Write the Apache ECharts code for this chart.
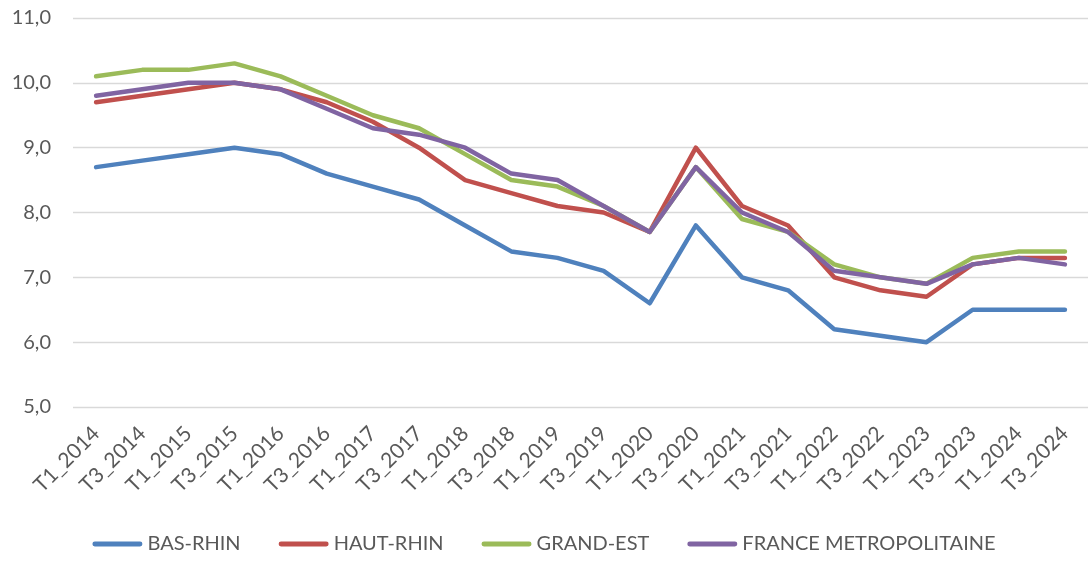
<!DOCTYPE html>
<html>
<head>
<meta charset="utf-8">
<script src="https://cdn.jsdelivr.net/npm/echarts@6/dist/echarts.min.js"></script>
<style>html,body{margin:0;padding:0;background:#fff}#c{width:1088px;height:561px}</style>
</head>
<body>
<div id="c"></div>
<script>
var categories = ["T1_2014","T3_2014","T1_2015","T3_2015","T1_2016","T3_2016","T1_2017","T3_2017","T1_2018","T3_2018","T1_2019","T3_2019","T1_2020","T3_2020","T1_2021","T3_2021","T1_2022","T3_2022","T1_2023","T3_2023","T1_2024","T3_2024"];
var basRhin = [8.7,8.8,8.9,9.0,8.9,8.6,8.4,8.2,7.8,7.4,7.3,7.1,6.6,7.8,7.0,6.8,6.2,6.1,6.0,6.5,6.5,6.5];
var hautRhin = [9.7,9.8,9.9,10.0,9.9,9.7,9.4,9.0,8.5,8.3,8.1,8.0,7.7,9.0,8.1,7.8,7.0,6.8,6.7,7.2,7.3,7.3];
var grandEst = [10.1,10.2,10.2,10.3,10.1,9.8,9.5,9.3,8.9,8.5,8.4,8.1,7.7,8.7,7.9,7.7,7.2,7.0,6.9,7.3,7.4,7.4];
var franceMetro = [9.8,9.9,10.0,10.0,9.9,9.6,9.3,9.2,9.0,8.6,8.5,8.1,7.7,8.7,8.0,7.7,7.1,7.0,6.9,7.2,7.3,7.2];
var seriesNames = ["BAS-RHIN","HAUT-RHIN","GRAND-EST","FRANCE METROPOLITAINE"];
var colors = ["#4f81bd","#c0504d","#9bbb59","#8064a2"];
var yTicks = {min:5, max:11, interval:1};

var font = "Lato, 'Noto Sans', sans-serif";
var chart = echarts.init(document.getElementById('c'));
var dataSets = [basRhin, hautRhin, grandEst, franceMetro];
var lineIcon = 'path://M2.5,0 H49.5 A2.5,2.5 0 0 1 49.5,5 H2.5 A2.5,2.5 0 0 1 2.5,0 Z';
chart.setOption({
  animation: false,
  color: colors,
  grid: {left: 73, right: 0, top: 18, bottom: 154},
  legend: {
    bottom: 2, left: 'center',
    itemWidth: 50, itemHeight: 5, itemGap: 38,
    textStyle: {fontFamily: font, fontSize: 20, color: '#595959', padding: [0,0,0,0]},
    data: seriesNames.map(function(n){ return {name: n, icon: lineIcon}; })
  },
  xAxis: {
    type: 'category',
    data: categories,
    boundaryGap: true,
    axisLine: {show: false},
    axisTick: {show: false},
    axisLabel: {rotate: 45, interval: 0, margin: 23, fontFamily: font, fontSize: 21, color: '#595959'}
  },
  yAxis: {
    type: 'value',
    min: yTicks.min, max: yTicks.max, interval: yTicks.interval,
    axisLine: {show: false},
    axisTick: {show: false},
    splitLine: {lineStyle: {color: '#d9d9d9', width: 1.3}},
    axisLabel: {margin: 22, fontFamily: font, fontSize: 20, color: '#595959',
      formatter: function(v){ return v.toFixed(1).replace('.', ','); }}
  },
  series: dataSets.map(function(d, i){
    return {
      name: seriesNames[i], type: 'line', data: d,
      symbol: 'none', smooth: false,
      lineStyle: {width: 4.5, cap: 'round', join: 'round', color: colors[i]},
      itemStyle: {color: colors[i]}
    };
  })
});
</script>
</body>
</html>
